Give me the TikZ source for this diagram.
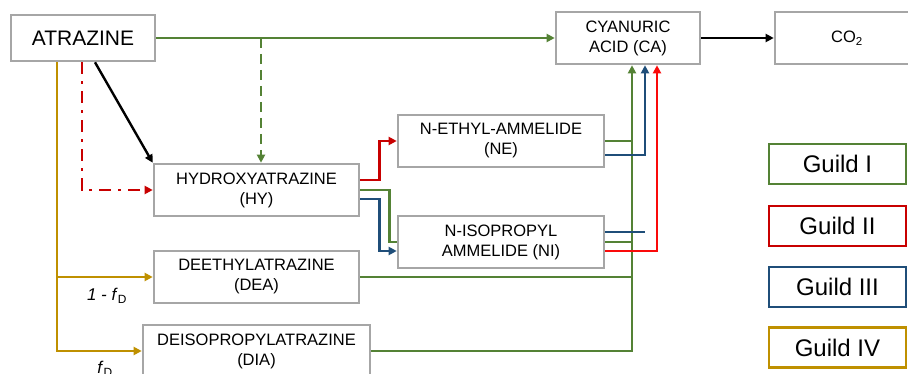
\documentclass[tikz,border=0pt]{standalone}
\usepackage{xcolor}
\usepackage{tikz}
\usetikzlibrary{arrows.meta,positioning,calc}
\usepackage{fontspec}
\setmainfont{Liberation Sans}
\definecolor{guildOne}{RGB}{84,130,53}
\definecolor{guildTwo}{RGB}{200,0,0}
\definecolor{guildTwoB}{RGB}{250,10,10}
\definecolor{guildThree}{RGB}{31,78,121}
\definecolor{guildFour}{RGB}{191,144,0}
\definecolor{boxgray}{RGB}{166,166,166}

\tikzset{
  cbox/.style={draw=boxgray,line width=2.6pt,fill=white,align=center,inner sep=0pt,
    font=\fontsize{16.5}{20}\selectfont,minimum width=#1,minimum height=52pt},
  cbox/.default=205pt,
  gbox/.style={draw=#1,line width=2.6pt,fill=white,minimum width=137pt,minimum height=40pt,
    inner sep=0pt,font=\fontsize{24}{26}\selectfont},
  link/.style={line width=2.4pt},
  tip/.style={-{Triangle[length=8pt,width=8pt]}},
}

\begin{document}
\begin{tikzpicture}[x=1pt,y=-1pt]
  \useasboundingbox (0,0) rectangle (908,374);
  % compounds
  \node[cbox=144pt,minimum height=46pt,font=\fontsize{21}{23}\selectfont] (atr) at (83,38) {ATRAZINE};
  \node[cbox=144pt] (ca) at (628,38) {CYANURIC\\ACID (CA)};
  \node[cbox=144pt] (co2) at (847,38) {CO\textsubscript{2}};
  \node[cbox] (hy) at (256.5,190) {HYDROXYATRAZINE\\(HY)};
  \node[cbox=206pt] (ne) at (501,141) {N-ETHYL-AMMELIDE\\(NE)};
  \node[cbox=206pt] (ni) at (501,242) {N-ISOPROPYL\\AMMELIDE (NI)};
  \node[cbox] (dea) at (256.5,277) {DEETHYLATRAZINE\\(DEA)};
  \node[cbox=227pt] (dia) at (256.5,351) {DEISOPROPYLATRAZINE\\(DIA)};
  % legend
  \node[gbox=guildOne] (g1) at (837.5,164) {Guild I};
  \node[gbox=guildTwo] (g2) at (837.5,226) {Guild II};
  \node[gbox=guildThree] (g3) at (837.5,287) {Guild III};
  \node[gbox=guildFour] (g4) at (837.5,347.5) {Guild IV};
  % inlets of cyanuric acid
  \coordinate (gin) at ([xshift=4pt]ca.south);
  \coordinate (bin) at ([xshift=17pt]ca.south);
  \coordinate (rin) at ([xshift=29pt]ca.south);
  \coordinate (split) at (261,38);
  % atrazine pathways
  \draw[link,guildOne,tip] (atr.east) -- (ca.west);
  \draw[link,guildOne,tip,dash pattern=on 10pt off 6pt] (split) -- (split |- hy.north);
  \draw[link,black,tip] ([xshift=12pt]atr.south) -- (hy.north west);
  \draw[link,guildTwo,tip,dash pattern=on 12pt off 7pt on 3pt off 7pt] ([xshift=-1pt]atr.south) |- (hy.west);
  \draw[link,guildFour,tip] ([xshift=-26pt]atr.south) |- (dia.west);
  \draw[link,guildFour,tip] ([xshift=-26pt]atr.south |- dea.west) -- (dea.west);
  \node[font=\fontsize{17}{19}\selectfont] (fa) at (107,296) {\textit{1 - f}\textsubscript{D}};
  \node[font=\fontsize{17}{19}\selectfont] (fb) at (105,369) {\textit{f}\textsubscript{D}};
  \draw[link,black,tip] (ca.east) -- (co2.west);
  % hydroxyatrazine to ammelides
  \draw[link,guildTwo,tip] ([yshift=10pt]hy.east) -- ++(19,0) |- (ne.west);
  \draw[link,guildOne] (hy.east) -- ++(29,0) |- (ni.west);
  \draw[link,guildThree,tip] ([yshift=-9pt]hy.east) -- ++(19,0) |- ([yshift=-9pt]ni.west);
  % to cyanuric acid
  \draw[link,guildOne,tip] (dia.east) -| (gin);
  \draw[link,guildOne] (dea.east) -- (dea.east -| gin);
  \draw[link,guildOne] (ni.east) -- (ni.east -| gin);
  \draw[link,guildOne] (ne.east) -- (ne.east -| gin);
  \draw[link,guildThree,tip] ([yshift=-14pt]ne.east) -| (bin);
  \draw[link,guildThree] ([yshift=10pt]ni.east) -- ([yshift=10pt]ni.east -| bin);
  \draw[link,guildTwoB,tip] ([yshift=-9pt]ni.east) -| (rin);
\end{tikzpicture}
\end{document}
